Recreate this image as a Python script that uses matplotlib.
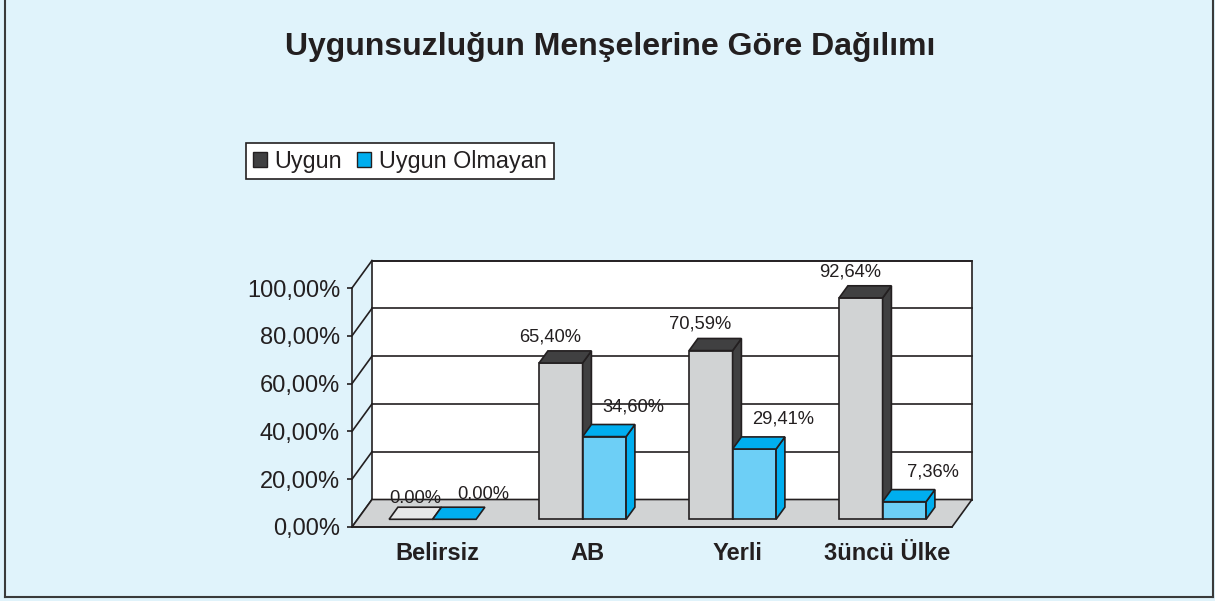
import matplotlib
matplotlib.use("Agg")
import matplotlib.pyplot as plt
from matplotlib.patches import Polygon, Patch
from matplotlib.lines import Line2D

plt.rcParams['font.family'] = ['Liberation Sans', 'DejaVu Sans']

# data
categories = ["Belirsiz", "AB", "Yerli", "3üncü Ülke"]
uygun = [0.00, 65.40, 70.59, 92.64]
uygun_olmayan = [0.00, 34.60, 29.41, 7.36]
uygun_labels = ["0.00%", "65,40%", "70,59%", "92,64%"]
olmayan_labels = ["0.00%", "34,60%", "29,41%", "7,36%"]
yticks = [0, 20, 40, 60, 80, 100]

bg = '#e0f3fb'
txt = '#231f20'
# front face, top/side face
colors = {'uygun': ('#d1d3d4', '#404041'), 'olmayan': ('#6dcff6', '#00aeef')}

W, H = 1215, 601
fig = plt.figure(figsize=(W / 100, H / 100), dpi=100, facecolor=bg)

# axes = front plane of the 3d box (pixels 352..952, 288..527)
ax = fig.add_axes([352 / W, (H - 527) / H, 600 / W, 239 / H])
ax.set_xlim(0, 4)
ax.set_ylim(0, 100)
ax.patch.set_visible(False)

DX = 20 / 150.0     # depth offset in category units
DY = 27.5 / 2.39    # depth offset in percent units
n = len(categories)

# back wall
ax.add_patch(Polygon([(DX, DY), (n + DX, DY), (n + DX, 100 + DY), (DX, 100 + DY)],
                     closed=True, facecolor='white', edgecolor='#231f20', lw=1.2,
                     clip_on=False, zorder=1))
for t in yticks:
    ax.plot([DX, n + DX], [t + DY, t + DY], color='#231f20', lw=1.2, clip_on=False, zorder=1)
    ax.plot([0, DX], [t, t + DY], color='#231f20', lw=1.2, clip_on=False, zorder=1)

# floor
ax.add_patch(Polygon([(0, 0), (n, 0), (n + DX, DY), (DX, DY)], closed=True,
                     facecolor='#d1d3d4', edgecolor='#231f20', lw=1.2,
                     clip_on=False, zorder=2))

# bars
w = 0.29
f0, f1 = 0.28, 0.72
ox, oy = f0 * DX, f0 * DY
ddx, ddy = (f1 - f0) * DX, (f1 - f0) * DY


def bar3d(x0, x1, v, front, dark, zero_col):
    kw = dict(closed=True, edgecolor='#231f20', lw=1.2, clip_on=False, zorder=3)
    if v > 0:
        ax.add_patch(Polygon([(x0 + ox, oy), (x1 + ox, oy), (x1 + ox, oy + v), (x0 + ox, oy + v)],
                             facecolor=front, **kw))
        ax.add_patch(Polygon([(x1 + ox, oy), (x1 + ox + ddx, oy + ddy),
                              (x1 + ox + ddx, oy + ddy + v), (x1 + ox, oy + v)],
                             facecolor=dark, **kw))
    top = dark if v > 0 else zero_col
    ax.add_patch(Polygon([(x0 + ox, oy + v), (x1 + ox, oy + v),
                          (x1 + ox + ddx, oy + v + ddy), (x0 + ox + ddx, oy + v + ddy)],
                         facecolor=top, **kw))


for i in range(n):
    c = i + 0.5
    bar3d(c - w, c, uygun[i], colors['uygun'][0], colors['uygun'][1], '#e6e7e8')
    bar3d(c, c + w, uygun_olmayan[i], colors['olmayan'][0], colors['olmayan'][1], '#00aeef')
    zdy = -5 if uygun[i] == 0 else 0
    ax.annotate(uygun_labels[i], (c - w / 2 + ox + ddx, oy + uygun[i] + ddy),
                xytext=(-20 if uygun[i] > 0 else -4, 14 + zdy), textcoords='offset pixels',
                ha='center', va='center',
                fontsize=13.2, color=txt, zorder=5, annotation_clip=False)
    ax.annotate(olmayan_labels[i], (c + w / 2 + ox + ddx, oy + uygun_olmayan[i] + ddy),
                xytext=(20, 18 + zdy), textcoords='offset pixels', ha='center', va='center',
                fontsize=13.2, color=txt, zorder=5, annotation_clip=False)

# axes styling
for s in ['top', 'right', 'bottom']:
    ax.spines[s].set_visible(False)
ax.spines['left'].set_color('#231f20')
ax.spines['left'].set_linewidth(1.2)
ax.spines['left'].set_zorder(4)
ax.plot([0, n], [0, 0], color='#231f20', lw=1.2, clip_on=False, zorder=4)

ax.set_yticks(yticks)
ax.set_yticklabels([("%.2f%%" % t).replace('.', ',') for t in yticks])
ax.tick_params(axis='y', direction='out', length=3.6, width=1.2, color='#231f20',
               pad=5, labelsize=17, labelcolor=txt)
ax.set_xticks([i + 0.5 + DX / 2 for i in range(n)])
ax.set_xticklabels(categories, fontweight='bold')
ax.tick_params(axis='x', length=0, pad=11, labelsize=17, labelcolor=txt)

# title
fig.text(610 / W, 1 - 47 / H, "Uygunsuzluğun Menşelerine Göre Dağılımı",
         ha='center', va='center', fontsize=23, fontweight='bold', color=txt)

# legend
handles = [Patch(facecolor=colors['uygun'][1], edgecolor='#231f20', lw=1),
           Patch(facecolor=colors['olmayan'][1], edgecolor='#231f20', lw=1)]
leg = fig.legend(handles, ["Uygun", "Uygun Olmayan"], ncol=2, loc='upper left',
                 bbox_to_anchor=(246 / W, 1 - 143 / H), fontsize=16.8,
                 handlelength=0.6, handleheight=0.6, handletextpad=0.34,
                 columnspacing=0.65, borderpad=0.28, borderaxespad=0,
                 fancybox=False, framealpha=1, facecolor='white', edgecolor='#231f20')
leg.get_frame().set_linewidth(1.2)
for t in leg.get_texts():
    t.set_color(txt)

# outer frame
fig.add_artist(Line2D([5 / W, 5 / W], [4 / H, 1], color='#3a3a3a', lw=1.5))
fig.add_artist(Line2D([5 / W, 1213 / W], [4 / H, 4 / H], color='#3a3a3a', lw=1.5))
fig.add_artist(Line2D([1213 / W, 1213 / W], [4 / H, 1], color='#3a3a3a', lw=1.5))

fig.savefig("out.png", dpi=100, facecolor=bg)
